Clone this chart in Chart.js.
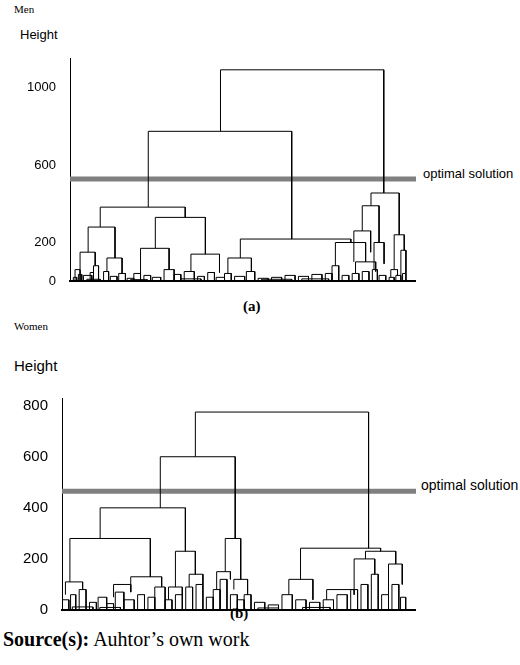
<!DOCTYPE html>
<html>
<head>
<meta charset="utf-8">
<script src="https://cdn.jsdelivr.net/npm/chart.js@4.4.1/dist/chart.umd.min.js"></script>
<style>
body{margin:0;background:#fff;width:520px;height:665px;position:relative;font-family:"Liberation Sans",Arial,sans-serif;overflow:hidden}
.box{position:absolute}
.t{position:absolute;color:#000;white-space:nowrap}
.serif{font-family:"Liberation Serif","Times New Roman",serif}
</style>
</head>
<body>
<div class="t serif" style="left:14px;top:3px;font-size:11px">Men</div>
<div class="t" style="left:20px;top:27px;font-size:13px">Height</div>
<div class="t" style="left:423px;top:166px;font-size:13px">optimal solution</div>
<div class="t serif" style="left:243px;top:298px;font-size:15px;font-weight:bold">(a)</div>
<div class="t serif" style="left:14px;top:320px;font-size:11px">Women</div>
<div class="t" style="left:14px;top:357px;font-size:15px">Height</div>
<div class="t" style="left:421px;top:477px;font-size:14px">optimal solution</div>
<div class="t serif" style="left:230px;top:605px;font-size:15px;font-weight:bold">(b)</div>
<div class="t serif" style="left:3px;top:628px;font-size:20px"><b>Source(s):</b> Auhtor’s own work</div>

<div class="box" style="left:0;top:45px;width:416px;height:250px"><canvas id="menChart"></canvas></div>
<div class="box" style="left:0;top:383px;width:416px;height:242px"><canvas id="womenChart"></canvas></div>

<script>
// links: [xLeft, heightLeft, xRight, heightRight, heightTop]
var menLinks = [
  [44.8, 775, 93.4, 456, 1093],
  [23.3, 383, 66, 218, 775],
  [9, 280, 34.3, 330, 383],
  [5.4, 150, 13.4, 120, 280],
  [3, 60, 7.5, 80, 150], [11, 50, 15.5, 40, 120],
  [25.4, 170, 40.3, 140, 330],
  [21, 40, 29.5, 60, 170], [36, 50, 44.5, 45, 140],
  [50.7, 120, 83.6, 200, 218],
  [47, 40, 54, 50, 120], [79, 80, 88, 100, 200], [85, 40, 91, 50, 100],
  [89.6, 390, 98, 240, 456], [87, 260, 92, 200, 390],
  [84.5, 100, 89.5, 150, 260], [96.5, 60, 99.5, 160, 240],
  [90.5, 60, 93.5, 90, 200], [95.5, 20, 97.5, 30, 60], [98.5, 30, 100, 40, 160]
];
var menLeaves = [
  [1, 2, 20], [2.5, 3.5, 35], [1.5, 3, 60], [6, 7, 45], [7, 8.5, 80], [4, 6.5, 30],
  [10, 11.5, 50], [12, 14, 25], [14.5, 16.5, 40], [17, 19, 15], [19, 21, 40],
  [22, 24, 30], [24.5, 27, 20], [28, 31, 60], [31, 33, 35], [34, 37, 50], [38, 40, 25],
  [41, 43, 45], [43.5, 46, 20], [46, 48, 40], [49, 52, 25], [52.5, 55, 50], [56, 59, 15],
  [60, 63, 20], [64, 67, 30], [68, 71, 25], [72, 75, 35], [76, 78, 40], [78, 80, 80],
  [81, 83, 30], [84, 86, 40], [87, 89, 50], [90, 91.5, 60], [92, 94, 30], [95, 96.5, 20],
  [97, 98.5, 30], [99, 100, 40], [5, 9, 10], [18, 23, 8], [33, 39, 12], [57, 66, 10], [69, 77, 12]
];
var womenLinks = [
  [38.8, 600, 89.2, 242, 775],
  [28.6, 400, 50.4, 280, 600],
  [11.1, 280, 35.9, 230, 400],
  [2.3, 110, 25.7, 130, 280],
  [33, 90, 38.8, 140, 230],
  [47.5, 150, 52, 120, 280],
  [69.4, 120, 92.7, 230, 242],
  [88.3, 200, 97.1, 180, 230],
  [1, 60, 6, 80, 110], [20, 70, 29, 90, 130], [15, 50, 20, 70, 100],
  [31, 40, 35, 60, 90], [37, 90, 41, 100, 140], [45, 80, 49, 120, 150],
  [50, 80, 54, 60, 120], [66, 60, 73, 40, 120], [85, 80, 91, 140, 200],
  [95, 60, 99, 100, 180], [77, 40, 85, 60, 80]
];
var womenLeaves = [
  [0, 2, 40], [2.5, 4, 60], [5, 7, 80], [8, 10, 30], [10.5, 13, 50], [13, 15, 25],
  [15.5, 18, 70], [18, 21, 40], [22, 24, 60], [25, 27, 50], [27, 30, 90], [30, 32, 40],
  [33, 35, 60], [36, 38, 90], [39, 41, 100], [42, 44, 50], [44, 46, 80], [46, 48, 120],
  [49, 51, 60], [51, 53, 40], [53, 55, 60], [56, 59, 30], [60, 63, 20], [64, 67, 60],
  [68, 71, 40], [72, 75, 30], [76, 79, 40], [80, 83, 60], [84, 86, 80], [87, 89, 100],
  [90, 92, 140], [93, 95, 60], [96, 98, 100], [98.5, 100, 50], [3, 9, 12], [11, 17, 10],
  [57, 63, 8], [70, 78, 10]
];
var menTicks = [0, 200, 600, 1000];
var womenTicks = [0, 200, 400, 600, 800];
var menOptimal = 528;
var womenOptimal = 465;

function treePoints(links, leaves) {
  var pts = [];
  links.forEach(function (l) {
    pts.push({x: l[0], y: l[1]}, {x: l[0], y: l[4]}, {x: l[2], y: l[4]}, {x: l[2], y: l[3]}, {x: l[2], y: null});
  });
  leaves.forEach(function (l) {
    pts.push({x: l[0], y: 0}, {x: l[0], y: l[2]}, {x: l[1], y: l[2]}, {x: l[1], y: 0}, {x: l[1], y: null});
  });
  return pts;
}

function makeChart(id, links, leaves, optimal, ticks, yMax, yWidth, xMax, padTop, fontSize) {
  new Chart(document.getElementById(id), {
    type: 'scatter',
    data: {
      datasets: [
        {data: treePoints(links, leaves), showLine: true, borderColor: '#000', borderWidth: 1, pointRadius: 0, spanGaps: false},
        {data: [{x: 0, y: optimal}, {x: xMax, y: optimal}], showLine: true, borderColor: '#808080', borderWidth: 5, pointRadius: 0}
      ]
    },
    options: {
      responsive: true,
      maintainAspectRatio: false,
      animation: false,
      layout: {padding: {top: padTop, right: 0}},
      plugins: {legend: {display: false}, tooltip: {enabled: false}},
      scales: {
        x: {type: 'linear', min: 0, max: xMax, grid: {display: false},
            border: {display: true, color: '#000', width: 2}, ticks: {display: false},
            afterFit: function (s) { s.height = 2; }},
        y: {min: 0, max: yMax, grid: {display: false},
            border: {display: true, color: '#000', width: 1},
            ticks: {color: '#000', font: {family: 'Liberation Sans', size: fontSize}, padding: 6,
                    callback: function (v) { return String(v); }},
            afterBuildTicks: function (s) { s.ticks = ticks.map(function (v) { return {value: v}; }); },
            afterFit: function (s) { s.width = yWidth; }}
      }
    }
  });
}

makeChart('menChart', menLinks, menLeaves, menOptimal, menTicks, 1150, 70, 103, 3, 13);
makeChart('womenChart', womenLinks, womenLeaves, womenOptimal, womenTicks, 830, 62, 103, 1.5, 15);
</script>
</body>
</html>
